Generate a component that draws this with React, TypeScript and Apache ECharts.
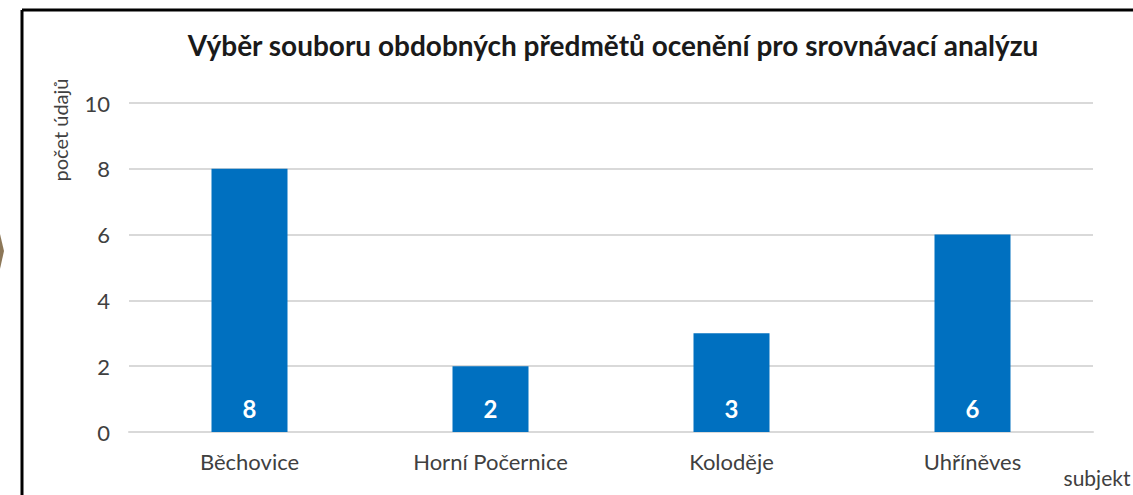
import React, { useEffect, useRef } from "react";
import * as echarts from "echarts";

const categories = ["Běchovice", "Horní Počernice", "Koloděje", "Uhříněves"];
const counts = [8, 2, 3, 6];
const yTicks = [0, 2, 4, 6, 8, 10];
const titleText = "Výběr souboru obdobných předmětů ocenění pro srovnávací analýzu";
const yAxisName = "počet údajů";
const xAxisName = "subjekt";

const FONT = "Lato, 'Open Sans', sans-serif";

export default function App() {
  const ref = useRef<HTMLDivElement>(null);
  useEffect(() => {
    if (!ref.current) return;
    const chart = echarts.init(ref.current, null, { renderer: "svg" });
    chart.setOption({
      animation: false,
      backgroundColor: "#ffffff",
      title: {
        text: titleText,
        left: 608,
        textAlign: "center",
        top: 26,
        textStyle: { fontFamily: FONT, fontSize: 28, fontWeight: "bold", color: "#1a1a1a" },
      },
      grid: { left: 129, right: 40, top: 103, bottom: 63, containLabel: false },
      xAxis: {
        type: "category",
        data: categories,
        axisLine: { show: true, lineStyle: { color: "#d9d9d9", width: 2 } },
        axisTick: { show: false },
        axisLabel: { fontFamily: FONT, fontSize: 22, color: "#404040", margin: 18 },
      },
      yAxis: {
        type: "value",
        min: yTicks[0],
        max: yTicks[yTicks.length - 1],
        interval: 2,
        axisLine: { show: false },
        axisTick: { show: false },
        axisLabel: { fontFamily: FONT, fontSize: 22, color: "#404040", margin: 19 },
        splitLine: { lineStyle: { color: "#d9d9d9", width: 2 } },
      },
      series: [
        {
          type: "bar",
          data: counts,
          barWidth: 76,
          itemStyle: { color: "#0070C0" },
          label: {
            show: true,
            position: "insideBottom",
            distance: 12,
            color: "#ffffff",
            fontFamily: FONT,
            fontSize: 24,
            fontWeight: "bold",
          },
        },
      ],
      graphic: [
        {
          type: "line",
          shape: { x1: 22, y1: 10, x2: 1133, y2: 10 },
          style: { stroke: "#000000", lineWidth: 3 },
        },
        {
          type: "line",
          shape: { x1: 22, y1: 10, x2: 22, y2: 495 },
          style: { stroke: "#000000", lineWidth: 3 },
        },
        {
          type: "polygon",
          shape: { points: [[-8, 232], [0, 234], [4, 251], [0, 269], [-8, 271]] },
          style: { fill: "#8c7758" },
        },
        {
          type: "text",
          x: 60,
          y: 130,
          rotation: Math.PI / 2,
          style: {
            text: yAxisName,
            fontFamily: FONT,
            fontSize: 20,
            fill: "#404040",
            textAlign: "center",
            textVerticalAlign: "middle",
          },
        },
        {
          type: "text",
          x: 1097,
          y: 477,
          style: {
            text: xAxisName,
            fontFamily: FONT,
            fontSize: 21,
            fill: "#404040",
            textAlign: "center",
            textVerticalAlign: "middle",
          },
        },
      ],
    });
    return () => chart.dispose();
  }, []);
  return (
    <div
      ref={ref}
      style={{ position: "fixed", left: 0, top: 0, width: 1133, height: 495 }}
    />
  );
}
